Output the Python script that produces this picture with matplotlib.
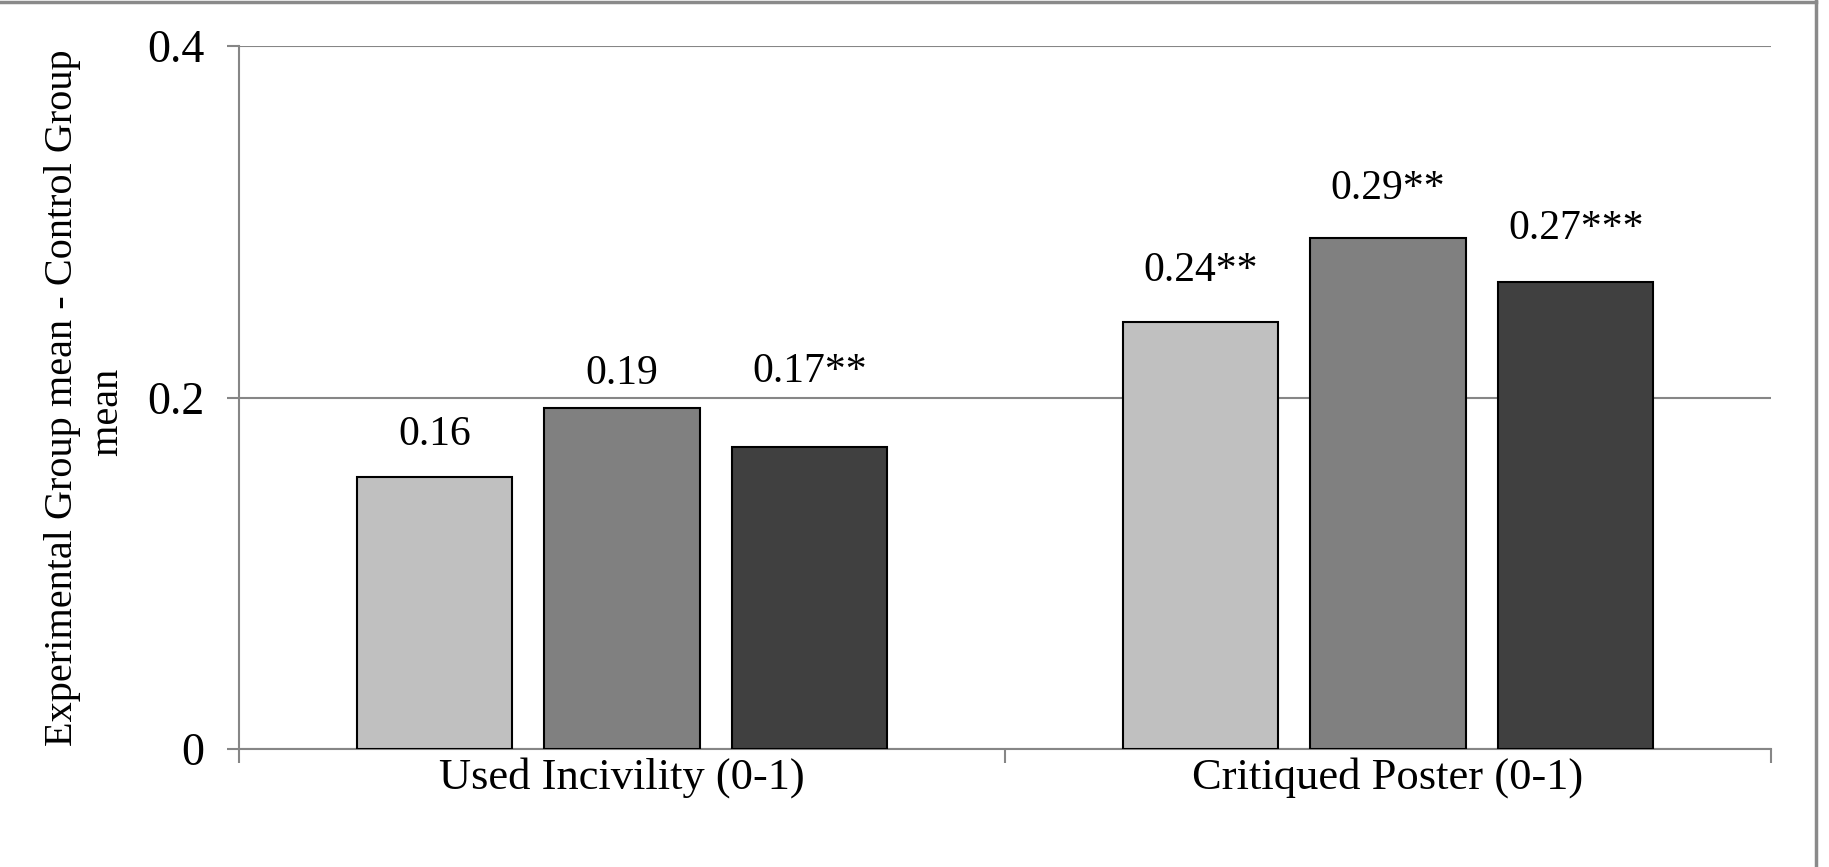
import matplotlib
matplotlib.use("Agg")
import matplotlib.pyplot as plt
from matplotlib.lines import Line2D
import numpy as np

# data
categories = ["Used Incivility (0-1)", "Critiqued Poster (0-1)"]
series_values = [
    [0.155, 0.243],   # light grey
    [0.194, 0.291],   # mid grey
    [0.172, 0.266],   # dark grey
]
label_texts = [
    ["0.16", "0.24**"],
    ["0.19", "0.29**"],
    ["0.17**", "0.27***"],
]
yticks = [0, 0.2, 0.4]
ytick_labels = ["0", "0.2", "0.4"]
ylabel = "Experimental Group mean - Control Group\nmean   "

colors = ["#c0c0c0", "#808080", "#404040"]
# label lift above bar top, in points (third series placed higher in the original)
label_lift = [[30, 37], [25, 35], [54, 38]]

plt.rcParams['font.family'] = ['Liberation Serif', 'DejaVu Serif']
GRID = "#868686"

fig = plt.figure(figsize=(18.29, 8.67), dpi=100)
ax = fig.add_axes([239 / 1829, 1 - 749 / 867, (1771 - 239) / 1829, (749 - 46) / 867])

x = np.arange(len(categories))
width = 0.203
step = 0.245
for i, vals in enumerate(series_values):
    pos = x + (i - 1) * step
    ax.bar(pos, vals, width, color=colors[i], edgecolor="black", linewidth=1.5, zorder=3)
    for j, v in enumerate(vals):
        ax.annotate(label_texts[i][j], (pos[j], v), xytext=(0, label_lift[i][j]),
                    textcoords="offset points", ha="center", va="center", fontsize=30)

ax.set_xlim(-0.5, len(categories) - 0.5)
ax.set_ylim(0, 0.4)
ax.set_yticks(yticks)
ax.set_yticklabels(ytick_labels)
ax.set_xticks(x)
ax.set_xticklabels(categories)
ax.set_xticks(np.arange(len(categories) + 1) - 0.5, minor=True)
ax.tick_params(axis="x", which="major", length=0, pad=6, labelsize=32)
ax.tick_params(axis="x", which="minor", length=10, width=1.5, color=GRID, direction="out")
ax.tick_params(axis="y", length=9, width=1.5, color=GRID, pad=16, labelsize=33)

ax.yaxis.grid(True, color=GRID, linewidth=1.5, zorder=0)
ax.set_axisbelow(True)
for s in ["top", "right"]:
    ax.spines[s].set_visible(False)
for s in ["left", "bottom"]:
    ax.spines[s].set_color(GRID)
    ax.spines[s].set_linewidth(1.5)

ax.set_ylabel(ylabel, fontsize=29, linespacing=1.32)
ax.yaxis.set_label_coords(-0.073, 0.5)

# outer frame (only top and right are visible in the crop)
fig.add_artist(Line2D([0, 1816 / 1829], [1 - 1.5 / 867, 1 - 1.5 / 867], color="#8a8a8a", linewidth=2.5, transform=fig.transFigure))
fig.add_artist(Line2D([1816 / 1829, 1816 / 1829], [0, 1], color="#8a8a8a", linewidth=2.5, transform=fig.transFigure))

fig.savefig("out.png", dpi=100)
